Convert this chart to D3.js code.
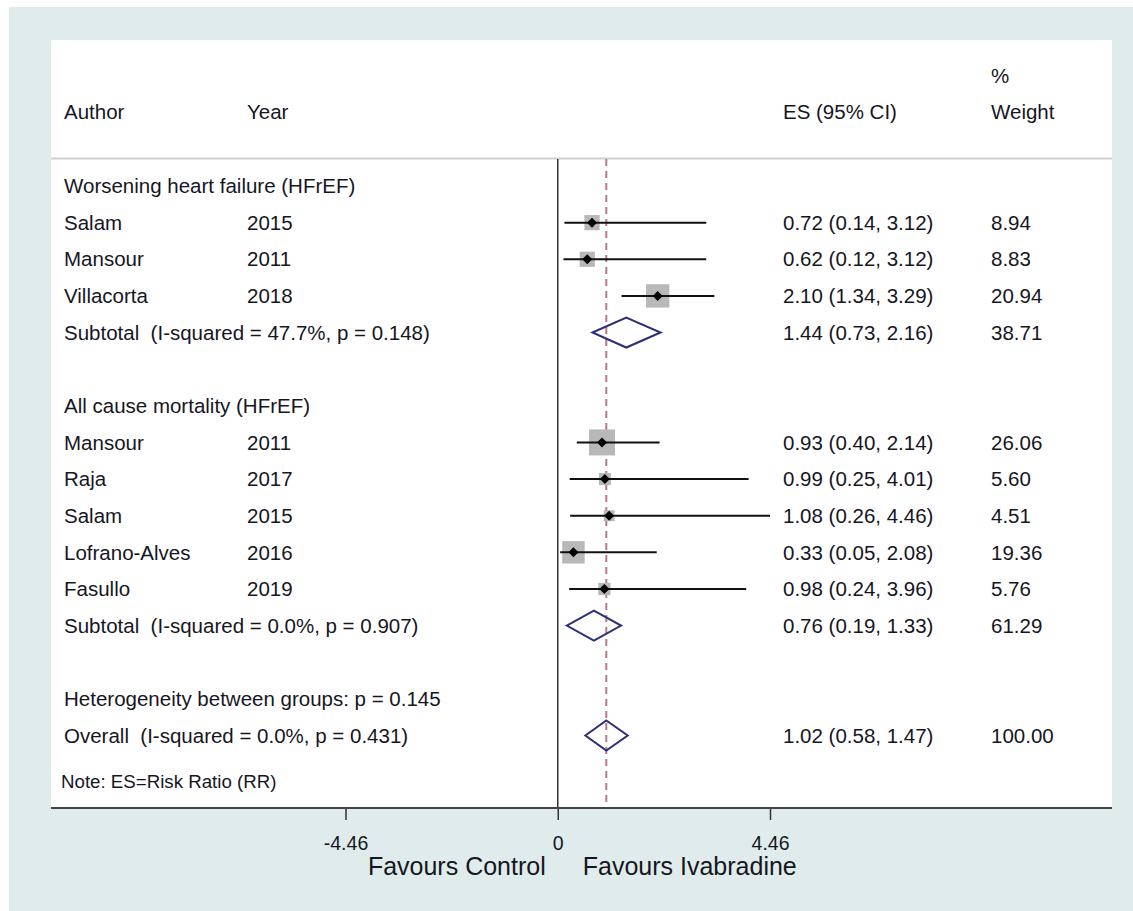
<!DOCTYPE html>
<html><head><meta charset="utf-8">
<script src="https://cdn.jsdelivr.net/npm/d3@7"></script>
<style>body{margin:0;background:#fff}svg{display:block;font-family:"Liberation Sans",Arial,sans-serif}text{white-space:pre}</style>
</head><body><svg id="c" width="1133" height="911"></svg>
<script>
// ---- data ----
const studyAuthors = ["Salam","Mansour","Villacorta","Mansour","Raja","Salam","Lofrano-Alves","Fasullo"];
const studyYears = ["2015","2011","2018","2011","2017","2015","2016","2019"];
const studyGroup = [0,0,0,1,1,1,1,1];
const studyES = [0.72,0.62,2.10,0.93,0.99,1.08,0.33,0.98];
const studyLo = [0.14,0.12,1.34,0.40,0.25,0.26,0.05,0.24];
const studyHi = [3.12,3.12,3.29,2.14,4.01,4.46,2.08,3.96];
const studyWeight = [8.94,8.83,20.94,26.06,5.60,4.51,19.36,5.76];
const groupTitles = ["Worsening heart failure (HFrEF)","All cause mortality (HFrEF)"];
const subtotalLabels = ["Subtotal  (I-squared = 47.7%, p = 0.148)","Subtotal  (I-squared = 0.0%, p = 0.907)"];
const subtotalES = [1.44,0.76];
const subtotalLo = [0.73,0.19];
const subtotalHi = [2.16,1.33];
const subtotalWeight = [38.71,61.29];
const hetLabel = "Heterogeneity between groups: p = 0.145";
const overallLabel = "Overall  (I-squared = 0.0%, p = 0.431)";
const overallES = 1.02, overallLo = 0.58, overallHi = 1.47, overallWeight = 100.00;
const xTicks = [-4.46, 0, 4.46];
const xTickLabels = ["-4.46","0","4.46"];
const noteText = "Note: ES=Risk Ratio (RR)";
const leftAxisLabel = "Favours Control", rightAxisLabel = "Favours Ivabradine";

// ---- build rows ----
const rows = [];
[0,1].forEach(g=>{
  rows.push({type:"title", text:groupTitles[g]});
  studyAuthors.forEach((a,i)=>{ if(studyGroup[i]===g) rows.push({type:"study",author:a,year:studyYears[i],es:studyES[i],lo:studyLo[i],hi:studyHi[i],w:studyWeight[i]}); });
  rows.push({type:"sub",text:subtotalLabels[g],es:subtotalES[g],lo:subtotalLo[g],hi:subtotalHi[g],w:subtotalWeight[g]});
  rows.push({type:"blank"});
});
rows.push({type:"title", text:hetLabel});
rows.push({type:"sub",text:overallLabel,es:overallES,lo:overallLo,hi:overallHi,w:overallWeight});

const svg = d3.select("#c");
svg.append("rect").attr("x",9).attr("y",7).attr("width",1124).attr("height",904).attr("fill","#e0ecec");
const px0=51, px1=1112, py0=40, py1=808;
svg.append("rect").attr("x",px0).attr("y",py0).attr("width",px1-px0).attr("height",py1-py0).attr("fill","#fff");

const x = d3.scaleLinear().domain([-4.46,4.46]).range([345.5,770]);
const y = d3.scaleLinear().domain([0,15]).range([186,735.5]);
const txt = "#16161f";
const fs = 20.5;
const colAuthor=64, colYear=247, colES=783, colW=991;

const hdr = svg.append("g").attr("font-size",fs).attr("fill",txt);
hdr.append("text").attr("x",colAuthor).attr("y",112).attr("dy","0.35em").text("Author");
hdr.append("text").attr("x",colYear).attr("y",112).attr("dy","0.35em").text("Year");
hdr.append("text").attr("x",colES).attr("y",112).attr("dy","0.35em").text("ES (95% CI)");
hdr.append("text").attr("x",colW).attr("y",76).attr("dy","0.35em").text("%");
hdr.append("text").attr("x",colW).attr("y",112).attr("dy","0.35em").text("Weight");
svg.append("line").attr("x1",px0).attr("x2",px1).attr("y1",158.5).attr("y2",158.5).attr("stroke","#cfcfcf").attr("stroke-width",2);

svg.append("line").attr("x1",x(0)).attr("x2",x(0)).attr("y1",159).attr("y2",py1).attr("stroke","#333").attr("stroke-width",1.5);
svg.append("line").attr("x1",x(overallES)).attr("x2",x(overallES)).attr("y1",159).attr("y2",py1)
  .attr("stroke","#b87a88").attr("stroke-width",2).attr("stroke-dasharray","7,5");

const fmt = d3.format(".2f");
const maxW = d3.max(studyWeight);
const boxSide = d3.scaleSqrt().domain([0,maxW]).range([0,26]);

rows.forEach((r,i)=>{
  const yy = y(i);
  const g = svg.append("g").attr("font-size",fs).attr("fill",txt);
  if(r.type==="title"){
    g.append("text").attr("x",colAuthor).attr("y",yy).attr("dy","0.35em").text(r.text);
  } else if(r.type==="study"){
    g.append("text").attr("x",colAuthor).attr("y",yy).attr("dy","0.35em").text(r.author);
    g.append("text").attr("x",colYear).attr("y",yy).attr("dy","0.35em").text(r.year);
    const s = boxSide(r.w);
    g.append("rect").attr("x",x(r.es)-s/2).attr("y",yy-s/2).attr("width",s).attr("height",s).attr("fill","#b8b8b8");
    g.append("line").attr("x1",x(r.lo)).attr("x2",x(r.hi)).attr("y1",yy).attr("y2",yy).attr("stroke","#111").attr("stroke-width",2);
    const d=5;
    g.append("path").attr("d",`M${x(r.es)-d},${yy}L${x(r.es)},${yy-d}L${x(r.es)+d},${yy}L${x(r.es)},${yy+d}Z`).attr("fill","#000");
  } else if(r.type==="sub"){
    g.append("text").attr("x",colAuthor).attr("y",yy).attr("dy","0.35em").text(r.text);
    const h=15;
    g.append("path").attr("d",`M${x(r.lo)},${yy}L${x(r.es)},${yy-h}L${x(r.hi)},${yy}L${x(r.es)},${yy+h}Z`)
      .attr("fill","none").attr("stroke","#2e2f7a").attr("stroke-width",2);
  }
  if(r.type==="study"||r.type==="sub"){
    g.append("text").attr("x",colES).attr("y",yy).attr("dy","0.35em").text(`${fmt(r.es)} (${fmt(r.lo)}, ${fmt(r.hi)})`);
    g.append("text").attr("x",colW).attr("y",yy).attr("dy","0.35em").text(fmt(r.w));
  }
});

svg.append("text").attr("x",colAuthor-3).attr("y",781).attr("dy","0.35em").attr("font-size",18.7).attr("fill",txt).text(noteText);

const ax = svg.append("g").attr("transform",`translate(0,${py1})`)
  .call(d3.axisBottom(x).tickValues(xTicks).tickFormat((d,i)=>xTickLabels[i]).tickSize(12).tickSizeOuter(0));
ax.select(".domain").remove();
ax.selectAll(".tick line").attr("stroke","#333").attr("stroke-width",1.5);
ax.selectAll(".tick text").attr("font-size",19.5).attr("fill",txt).attr("font-family","'Liberation Sans',Arial,sans-serif").attr("y",28);
svg.append("line").attr("x1",px0).attr("x2",px1).attr("y1",py1).attr("y2",py1).attr("stroke","#444").attr("stroke-width",2);

svg.append("text").attr("x",x(0)-12).attr("y",866).attr("dy","0.35em").attr("text-anchor","end").attr("font-size",25).attr("fill",txt).text(leftAxisLabel);
svg.append("text").attr("x",x(0)+25).attr("y",866).attr("dy","0.35em").attr("text-anchor","start").attr("font-size",25).attr("fill",txt).text(rightAxisLabel);
</script></body></html>
